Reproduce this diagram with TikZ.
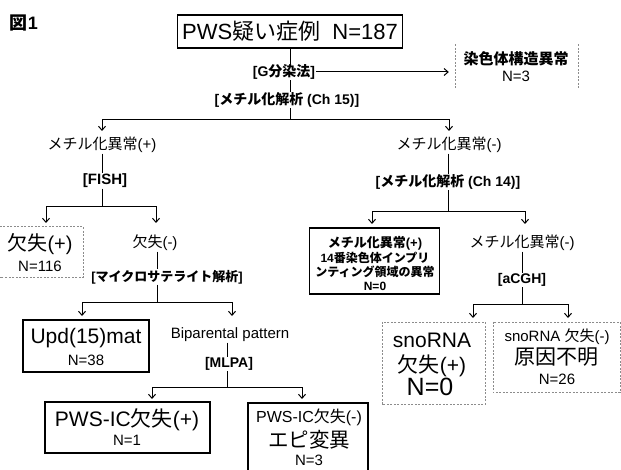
\documentclass[tikz,border=0pt]{standalone}
\usepackage{fontspec}
\setmainfont{Liberation Sans}
\newfontfamily\jp{Noto Sans CJK JP}
\usetikzlibrary{arrows.meta}
\newcommand{\fsz}[1]{\fontsize{#1}{#1}\selectfont}
\begin{document}
\begin{tikzpicture}[x=1pt,y=-1pt,
  txt/.style={inner sep=0.5pt, font=\fsz{14}},
  bld/.style={inner sep=0.5pt, font=\bfseries\fsz{14}},
  ln/.style={line width=1pt},
  arr/.style={line width=1pt, -{Straight Barb[length=4pt,width=7pt]}},
  frame/.style={draw, line width=1.2pt, inner sep=0pt},
  heavy/.style={draw, line width=1.9pt, inner sep=0pt},
  ghost/.style={inner sep=0pt},
  dsh/.style={draw=black!45, line width=0.6pt, dash pattern=on 2pt off 1.5pt},
]
\useasboundingbox (0,0) rectangle (621,470);

% title
\node[bld, font=\bfseries\fsz{18}] (fig) at (24,23) {{\jp 図}1};

% top
\node[heavy, minimum width=225, minimum height=33, font=\fsz{22}] (top) at (290,31.5) {PWS{\jp 疑い症例}\ \ N=187};
\node[bld] (g) at (284,72) {[G{\jp 分染法}]};
\draw[ln] (top.south) -- (top.south |- g.north);

% chromosome structure
\node[ghost, minimum width=123, minimum height=44] (cs) at (516.5,66.5) {};
\draw[dsh] (cs.north west) -- (cs.south west) (cs.north east) -- (cs.south east);
\node[bld, font=\bfseries\fsz{15}] (cs1) at (516,58.5) {\jp 染色体構造異常};
\node[txt, font=\fsz{15}] (cs2) at (516,76) {N=3};
\draw[arr, shorten >=6pt] (g.east) -- (g.east -| cs.west);

\node[bld] (ch15) at (287,100) {[{\jp メチル化解析} (Ch 15)]};
\draw[ln] (g.south -| top.south) -- (ch15.north -| top.south);

\coordinate (b1) at (290,120);
\draw[ln] (ch15.south -| b1) -- (b1);
\coordinate (t1a) at (102,131);
\coordinate (t1b) at (449,131);
\draw[arr] (b1) -| (t1a);
\draw[arr] (b1) -| (t1b);

% left branch
\node[txt, font=\fsz{15}] (m15p) at (102,145) {{\jp メチル化異常}(+)};
\node[bld, font=\bfseries\fsz{15}] (fish) at (105,181) {[FISH]};
\draw[ln] (m15p.south) -- (m15p.south |- fish.north);

\coordinate (b2) at (102,207);
\draw[ln] (fish.south -| b2) -- (b2);
\coordinate (t2a) at (46,223);
\coordinate (t2b) at (156,223);
\draw[arr] (b2) -| (t2a);
\draw[arr] (b2) -| (t2b);

\node[ghost, minimum width=83, minimum height=50] (dp) at (41.5,252) {};
\draw[dsh] (dp.north west) -- (dp.north east) -- (dp.south east) -- (dp.south west);
\node[txt, font=\fsz{20}] (dp1) at (40,244) {{\jp 欠失}(+)};
\node[txt, font=\fsz{15}] (dp2) at (40,266) {N=116};

\node[txt, font=\fsz{15}] (dm) at (155,243) {{\jp 欠失}(-)};
\node[bld, font=\bfseries\fsz{13}] (ms) at (167,277) {[{\jp マイクロサテライト解析}]};
\draw[ln] (dm.south -| 157,0) -- (ms.north -| 157,0);

\coordinate (b3) at (157,303);
\draw[ln] (ms.south -| b3) -- (b3);
\coordinate (t3a) at (82,316);
\coordinate (t3b) at (232,316);
\draw[arr] (b3) -| (t3a);
\draw[arr] (b3) -| (t3b);

\node[frame, minimum width=126, minimum height=52] (upd) at (86,346) {};
\node[txt, font=\fsz{21}] (upd1) at (86,338) {Upd(15)mat};
\node[txt, font=\fsz{15}] (upd2) at (86,360) {N=38};

\node[txt, font=\fsz{15}] (bip) at (230,335) {Biparental pattern};
\node[bld, font=\bfseries\fsz{14}] (mlpa) at (229,364) {[MLPA]};
\draw[ln] (bip.south -| 227,0) -- (mlpa.north -| 227,0);

\coordinate (b4) at (227,387);
\draw[ln] (mlpa.south -| b4) -- (b4);
\coordinate (t4a) at (152,399);
\coordinate (t4b) at (302,399);
\draw[arr] (b4) -| (t4a);
\draw[arr] (b4) -| (t4b);

\node[frame, minimum width=165, minimum height=51] (icp) at (127.5,427.5) {};
\node[txt, font=\fsz{21}] (icp1) at (127,420) {PWS-IC{\jp 欠失}(+)};
\node[txt, font=\fsz{15}] (icp2) at (127,440) {N=1};

\node[frame, minimum width=120, minimum height=72] (icn) at (308,439) {};
\node[txt, font=\fsz{16}] (icn1) at (309,417.5) {PWS-IC{\jp 欠失}(-)};
\node[txt, font=\fsz{20.5}] (icn2) at (309,440) {\jp エピ変異};
\node[txt, font=\fsz{15}] (icn3) at (309,460) {N=3};

% right branch
\node[txt, font=\fsz{15}] (m15n) at (449,145) {{\jp メチル化異常}(-)};
\node[bld] (ch14) at (448,182) {[{\jp メチル化解析} (Ch 14)]};
\draw[ln] (m15n.south -| 448,0) -- (ch14.north -| 448,0);

\coordinate (b5) at (448,212);
\draw[ln] (ch14.south -| b5) -- (b5);
\coordinate (t5a) at (372,224);
\coordinate (t5b) at (525,224);
\draw[arr] (b5) -| (t5a);
\draw[arr] (b5) -| (t5b);

\node[heavy, minimum width=130, minimum height=66] (hb) at (374.5,261) {};
\node[bld, font=\bfseries\fsz{13}] (hb1) at (375,243) {{\jp メチル化異常}(+)};
\node[bld, font=\bfseries\fsz{12}] (hb2) at (375,258) {14{\jp 番染色体インプリ}};
\node[bld, font=\bfseries\fsz{12}] (hb3) at (375,272) {\jp ンティング領域の異常};
\node[bld, font=\bfseries\fsz{12}] (hb4) at (375,286) {N=0};

\node[txt, font=\fsz{15}] (m14n) at (522,243) {{\jp メチル化異常}(-)};
\node[bld, font=\bfseries\fsz{14}] (acgh) at (522,280) {[aCGH]};
\draw[ln] (m14n.south) -- (m14n.south |- acgh.north);

\coordinate (b6) at (522,305);
\draw[ln] (acgh.south -| b6) -- (b6);
\coordinate (t6a) at (473,318);
\coordinate (t6b) at (568,318);
\draw[arr] (b6) -| (t6a);
\draw[arr] (b6) -| (t6b);

\node[ghost, minimum width=103, minimum height=82] (sp) at (433.5,363) {};
\draw[dsh] (sp.north west) rectangle (sp.south east);
\node[txt, font=\fsz{21}] (sp1) at (432,340) {snoRNA};
\node[txt, font=\fsz{21}] (sp2) at (432,366) {{\jp 欠失}(+)};
\node[txt, font=\fsz{25}] (sp3) at (430,387) {N=0};

\node[ghost, minimum width=127, minimum height=70] (sn) at (556.5,357) {};
\draw[dsh] (sn.north west) rectangle (sn.south east);
\node[txt, font=\fsz{15}] (sn1) at (557,337) {snoRNA {\jp 欠失}(-)};
\node[txt, font=\fsz{21}] (sn2) at (556,357.5) {\jp 原因不明};
\node[txt, font=\fsz{15}] (sn3) at (557,379) {N=26};
\end{tikzpicture}
\end{document}
